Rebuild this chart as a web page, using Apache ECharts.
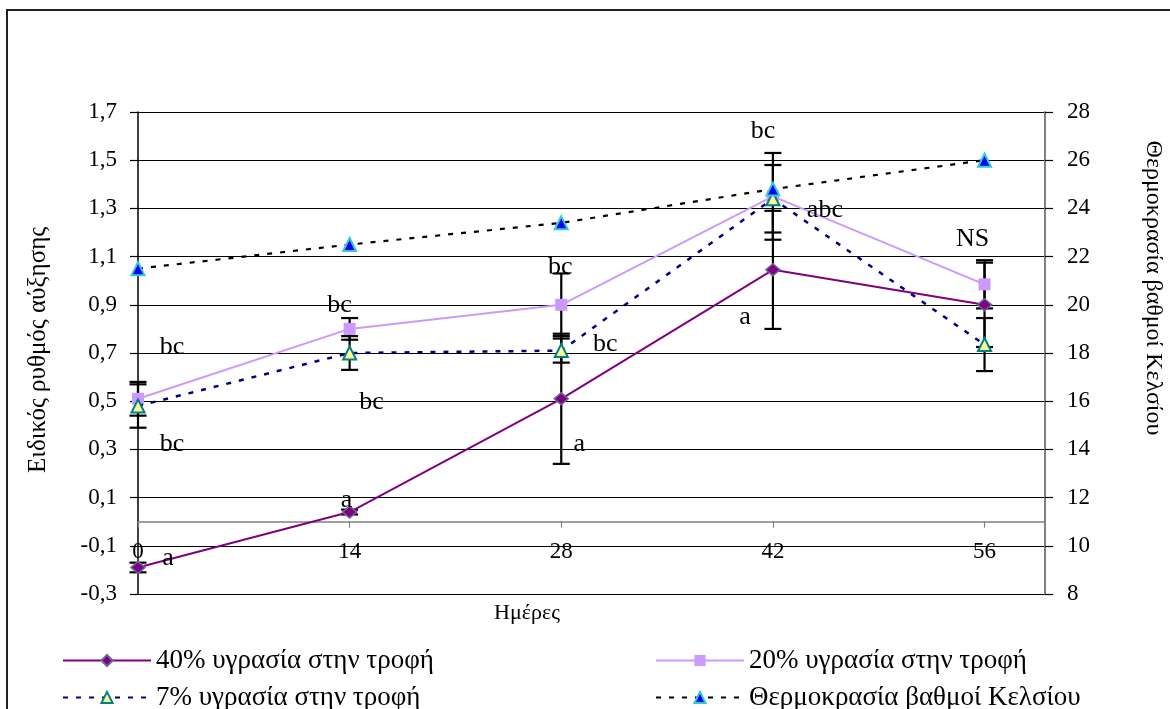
<!DOCTYPE html>
<html>
<head>
<meta charset="utf-8">
<script src="https://cdn.jsdelivr.net/npm/echarts@6/dist/echarts.min.js"></script>
<style>
  html, body { margin: 0; padding: 0; background: #fff; }
  #chart { width: 1170px; height: 709px; }
</style>
</head>
<body>
<div id="chart"></div>
<script>
// Sampling days
const days = [0, 14, 28, 42, 56];

// Specific growth rate per feed moisture level, with error (±)
const rate40 = [-0.19, 0.04, 0.51, 1.045, 0.90];
const err40  = [0.02, 0.01, 0.27, 0.245, 0.175];
const rate20 = [0.51, 0.80, 0.90, 1.35, 0.985];
const err20  = [0.07, 0.045, 0.13, 0.18, 0.10];
const rate7  = [0.48, 0.70, 0.71, 1.34, 0.735];
const err7   = [0.09, 0.07, 0.05, 0.14, 0.11];

// Water temperature (°C), right axis
const tempC = [21.5, 22.5, 23.4, 24.8, 26.0];

// Significance letters
const letters40 = ['a', 'a', 'a', 'a', ''];
const letters20 = ['bc', 'bc', 'bc', 'bc', 'NS'];
const letters7  = ['bc', 'bc', 'bc', 'abc', ''];

// Axis ticks
const xTicks = [0, 14, 28, 42, 56];

const name40 = '40% υγρασία στην τροφή';
const name20 = '20% υγρασία στην τροφή';
const name7  = '7% υγρασία στην τροφή';
const nameT  = 'Θερμοκρασία βαθμοί Κελσίου';

// Pixel offsets of each letter from its point
const offs40 = [[30, -9], [-3, -12], [18, 45], [-28, 47], [0, 0]];
const offs20 = [[34, -52], [-10, -24], [-1, -38], [-10, -65], [-12, -45]];
const offs7  = [[34, 38], [22, 49], [44, -6], [52, 11], [0, 0]];

const FONT = '"Liberation Serif", "Times New Roman", serif';

function errData(vals, errs) {
  return days.map((d, i) => [d, vals[i], errs[i]]);
}
function letterData(vals, letters, offs) {
  const out = [];
  days.forEach((d, i) => {
    if (letters[i]) out.push([d, vals[i], letters[i], offs[i][0], offs[i][1]]);
  });
  return out;
}

function renderErr(params, api) {
  const x = api.value(0), y = api.value(1), e = api.value(2);
  const top = api.coord([x, y + e]);
  const bot = api.coord([x, y - e]);
  const hw = 8.5;
  const st = { stroke: '#000', lineWidth: 2.2 };
  return {
    type: 'group',
    children: [
      { type: 'line', shape: { x1: top[0], y1: top[1], x2: bot[0], y2: bot[1] }, style: st },
      { type: 'line', shape: { x1: top[0] - hw, y1: top[1], x2: top[0] + hw, y2: top[1] }, style: st },
      { type: 'line', shape: { x1: bot[0] - hw, y1: bot[1], x2: bot[0] + hw, y2: bot[1] }, style: st }
    ]
  };
}

function renderLetter(params, api) {
  const p = api.coord([api.value(0), api.value(1)]);
  return {
    type: 'text',
    x: p[0] + api.value(3),
    y: p[1] + api.value(4),
    style: {
      text: api.value(2),
      fill: '#000',
      fontSize: 26,
      fontFamily: FONT,
      align: 'center',
      verticalAlign: 'middle'
    }
  };
}

function errSeries(vals, errs) {
  return {
    type: 'custom', renderItem: renderErr, data: errData(vals, errs),
    xAxisIndex: 0, yAxisIndex: 0, z: 3, silent: true,
    encode: { x: 0, y: 1 }
  };
}
function letterSeries(vals, letters, offs) {
  return {
    type: 'custom', renderItem: renderLetter,
    data: letterData(vals, letters, offs),
    dimensions: ['x', 'y', { name: 't', type: 'ordinal' }, 'dx', 'dy'],
    xAxisIndex: 0, yAxisIndex: 0, z: 10, silent: true,
    encode: { x: 0, y: 1 }
  };
}

function legendItem(name, left, top) {
  return {
    left: left, top: top, padding: 0, orient: 'horizontal',
    itemWidth: 88, itemHeight: 14,
    data: [name],
    textStyle: { fontFamily: FONT, fontSize: 27, color: '#000', lineHeight: 26 }
  };
}

const pairs = arr => days.map((d, i) => [d, arr[i]]);

const chart = echarts.init(document.getElementById('chart'), null, { renderer: 'canvas' });

chart.setOption({
  animation: false,
  backgroundColor: '#fff',
  textStyle: { fontFamily: FONT, color: '#000' },
  grid: { left: 138, right: 125, top: 112, height: 482 },
  legend: [
    legendItem(name40, 62, 647),
    legendItem(name7, 62, 684),
    legendItem(name20, 655, 647),
    legendItem(nameT, 655, 684)
  ],
  xAxis: {
    type: 'value', min: 0, max: 60, interval: 14,
    axisLine: { onZero: true, lineStyle: { color: '#808080', width: 1.5 } },
    axisTick: { show: true, length: 6, customValues: xTicks, lineStyle: { color: '#808080', width: 1.2 } },
    axisLabel: {
      customValues: xTicks,
      margin: -54, fontSize: 23, fontFamily: FONT, color: '#000',
      formatter: v => (xTicks.indexOf(v) >= 0 ? String(v) : '')
    },
    splitLine: { show: false }
  },
  yAxis: [
    {
      type: 'value', min: -0.3, max: 1.7, interval: 0.2,
      axisLine: { show: true, onZero: false, lineStyle: { color: '#000', width: 1.5 } },
      axisTick: { show: true, length: 8, lineStyle: { color: '#000', width: 1.2 } },
      axisLabel: {
        margin: 21, fontSize: 23, fontFamily: FONT, color: '#000',
        formatter: v => v.toFixed(1).replace('.', ',')
      },
      splitLine: { show: true, lineStyle: { color: '#000', width: 1.2 } }
    },
    {
      type: 'value', position: 'right', min: 8, max: 28, interval: 2,
      axisLine: { show: true, onZero: false, lineStyle: { color: '#808080', width: 2 } },
      axisTick: { show: true, length: 8, lineStyle: { color: '#000', width: 1.2 } },
      axisLabel: { margin: 22, fontSize: 23, fontFamily: FONT, color: '#000' },
      splitLine: { show: false }
    }
  ],
  graphic: [
    {
      type: 'rect', shape: { x: 7, y: 10, width: 1190, height: 730 },
      style: { fill: 'none', stroke: '#222', lineWidth: 2 }, silent: true
    },
    {
      type: 'text', x: 38, y: 350, rotation: Math.PI / 2,
      style: { text: 'Ειδικός ρυθμός αύξησης', fontSize: 25, fontFamily: FONT, fill: '#000', align: 'center', verticalAlign: 'middle' }
    },
    {
      type: 'text', x: 1153, y: 288, rotation: -Math.PI / 2,
      style: { text: 'Θερμοκρασία βαθμοί Κελσίου', fontSize: 24, fontFamily: FONT, fill: '#000', align: 'center', verticalAlign: 'middle' }
    },
    {
      type: 'text', x: 527, y: 613,
      style: { text: 'Ημέρες', fontSize: 22, fontFamily: FONT, fill: '#000', align: 'center', verticalAlign: 'middle' }
    }
  ],
  series: [
    errSeries(rate40, err40),
    errSeries(rate20, err20),
    errSeries(rate7, err7),
    {
      name: name40, type: 'line', data: pairs(rate40), z: 5,
      symbol: 'diamond', symbolSize: [14, 12],
      lineStyle: { color: '#800080', width: 2 },
      itemStyle: { color: '#800080', borderColor: '#666699', borderWidth: 1.5 }
    },
    {
      name: name20, type: 'line', data: pairs(rate20), z: 5,
      symbol: 'rect', symbolSize: 12,
      lineStyle: { color: '#CC99FF', width: 2 },
      itemStyle: { color: '#CC99FF', borderColor: '#CC99FF', borderWidth: 0 }
    },
    {
      name: name7, type: 'line', data: pairs(rate7), z: 6,
      symbol: 'triangle', symbolSize: 13,
      lineStyle: { color: '#000080', width: 2.5, type: [5, 8] },
      itemStyle: { color: '#FFFF99', borderColor: '#008080', borderWidth: 2 }
    },
    {
      name: nameT, type: 'line', yAxisIndex: 1, data: pairs(tempC), z: 7,
      symbol: 'triangle', symbolSize: 13,
      lineStyle: { color: '#000', width: 2.2, type: [5, 8] },
      itemStyle: { color: '#0000FF', borderColor: '#33CCCC', borderWidth: 2 }
    },
    letterSeries(rate40, letters40, offs40),
    letterSeries(rate20, letters20, offs20),
    letterSeries(rate7, letters7, offs7)
  ]
});
</script>
</body>
</html>
